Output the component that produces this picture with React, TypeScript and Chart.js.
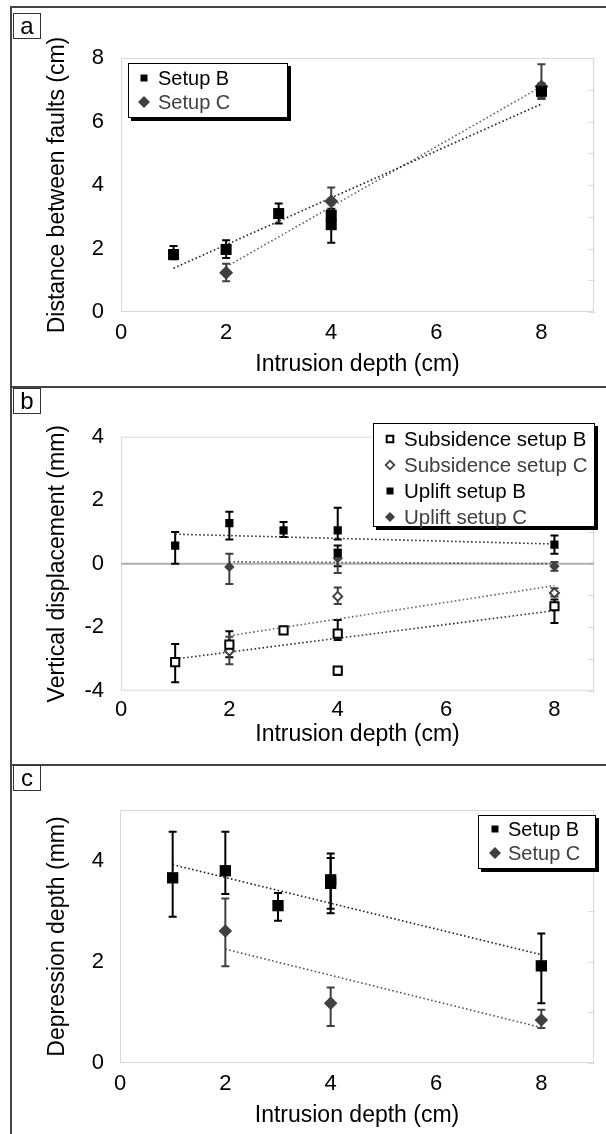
import React, { useEffect, useRef } from "react";
import { Chart, registerables } from "chart.js";

Chart.register(...registerables);

const FONT = "'Liberation Sans', Arial, Helvetica, sans-serif";
const BLACK = "#000000";
const GRAY = "#404040";

// shared x axis
const X_TICKS = [0, 2, 4, 6, 8];
const X_TITLE = "Intrusion depth (cm)";

// ---------- panel a ----------
const A_Y_TICKS = [0, 2, 4, 6, 8];
const A_Y_TITLE = "Distance between faults (cm)";
const A_B_X = [1, 2, 3, 4, 4, 8];
const A_B_Y = [1.81, 1.97, 3.1, 3.05, 2.75, 6.95];
const A_B_HI = [2.08, 2.26, 3.42, 3.25, 3.1, 7.2];
const A_B_LO = [1.66, 1.7, 2.79, 2.85, 2.18, 6.72];
const A_C_X = [2, 4, 8];
const A_C_Y = [1.24, 3.49, 7.1];
const A_C_HI = [1.52, 3.92, 7.8];
const A_C_LO = [0.97, 3.08, 6.74];
const A_B_TREND_X = [1, 8];
const A_B_TREND_Y = [1.38, 6.55];
const A_C_TREND_X = [2, 8];
const A_C_TREND_Y = [1.42, 7.1];

// ---------- panel b ----------
const B_Y_TICKS = [-4, -2, 0, 2, 4];
const B_Y_TITLE = "Vertical displacement (mm)";
const B_SUBB_X = [1, 2, 3, 4, 4, 8];
const B_SUBB_Y = [-3.1, -2.55, -2.1, -2.2, -3.37, -1.34];
const B_SUBB_HI = [-2.53, -2.13, -2.0, -1.77, -3.25, -1.13];
const B_SUBB_LO = [-3.73, -2.95, -2.18, -2.4, -3.5, -1.87];
const B_SUBC_X = [2, 4, 8];
const B_SUBC_Y = [-2.75, -1.03, -0.92];
const B_SUBC_HI = [-2.3, -0.75, -0.77];
const B_SUBC_LO = [-3.17, -1.27, -1.03];
const B_UPB_X = [1, 2, 3, 4, 4, 8];
const B_UPB_Y = [0.57, 1.28, 1.05, 1.05, 0.33, 0.6];
const B_UPB_HI = [1.0, 1.64, 1.31, 1.76, 0.57, 0.89];
const B_UPB_LO = [0.0, 0.76, 0.84, 0.76, -0.08, 0.31];
const B_UPC_X = [2, 4, 8];
const B_UPC_Y = [-0.1, 0.17, -0.08];
const B_UPC_HI = [0.31, 0.45, 0.05];
const B_UPC_LO = [-0.64, -0.29, -0.22];
const B_SUBB_TREND_X = [1, 8];
const B_SUBB_TREND_Y = [-3.0, -1.48];
const B_SUBC_TREND_X = [2, 8];
const B_SUBC_TREND_Y = [-2.27, -0.69];
const B_UPB_TREND_X = [1, 8];
const B_UPB_TREND_Y = [0.93, 0.62];
const B_UPC_TREND_X = [2, 8];
const B_UPC_TREND_Y = [0.06, 0.0];

// ---------- panel c ----------
const C_Y_TICKS = [0, 2, 4];
const C_Y_TITLE = "Depression depth (mm)";
const C_B_X = [1, 2, 3, 4, 4, 8];
const C_B_Y = [3.66, 3.8, 3.11, 3.62, 3.55, 1.92];
const C_B_HI = [4.57, 4.57, 3.36, 4.14, 4.05, 2.56];
const C_B_LO = [2.89, 3.34, 2.81, 3.05, 2.96, 1.18];
const C_C_X = [2, 4, 8];
const C_C_Y = [2.61, 1.18, 0.85];
const C_C_HI = [3.25, 1.49, 1.05];
const C_C_LO = [1.91, 0.73, 0.69];
const C_B_TREND_X = [1, 8];
const C_B_TREND_Y = [3.92, 2.14];
const C_C_TREND_X = [2, 8];
const C_C_TREND_Y = [2.25, 0.7];

const pts = (xs: number[], ys: number[]) => xs.map((x, i) => ({ x, y: ys[i] }));

function drawMarker(ctx: CanvasRenderingContext2D, style: string, x: number, y: number, r: number, fill: string, stroke: string, lw: number) {
  ctx.beginPath();
  if (style === "rect") {
    ctx.rect(x - r, y - r, 2 * r, 2 * r);
  } else {
    ctx.moveTo(x, y - r);
    ctx.lineTo(x + r, y);
    ctx.lineTo(x, y + r);
    ctx.lineTo(x - r, y);
    ctx.closePath();
  }
  ctx.fillStyle = fill;
  ctx.fill();
  if (lw > 0) {
    ctx.strokeStyle = stroke;
    ctx.lineWidth = lw;
    ctx.stroke();
  }
}

const decorPlugin = {
  id: "decor",
  beforeDatasetsDraw(chart: any, _args: any, opts: any) {
    const { ctx, chartArea: a } = chart;
    const xs = chart.scales.x;
    const ys = chart.scales.y;
    ctx.save();
    // plot frame
    ctx.strokeStyle = "#d8d8d8";
    ctx.lineWidth = 1;
    ctx.strokeRect(a.left + 0.5, a.top + 0.5, a.right - a.left - 1, a.bottom - a.top - 1);
    // faint tick marks on the right edge
    ctx.strokeStyle = "#dcdcdc";
    for (let v = Math.ceil(ys.min); v <= ys.max; v++) {
      const y = Math.round(ys.getPixelForValue(v)) + 0.5;
      ctx.beginPath();
      ctx.moveTo(a.right - 6, y);
      ctx.lineTo(a.right + 1, y);
      ctx.stroke();
    }
    if (opts.zeroLine) {
      const y0 = ys.getPixelForValue(0);
      ctx.strokeStyle = "#b0b0b0";
      ctx.lineWidth = 2;
      ctx.beginPath();
      ctx.moveTo(a.left, y0);
      ctx.lineTo(a.right, y0);
      ctx.stroke();
    }
    // error bars
    chart.data.datasets.forEach((ds: any) => {
      if (!ds.errHi) return;
      ctx.strokeStyle = ds.errColor;
      ctx.lineWidth = 2;
      ds.data.forEach((p: any, i: number) => {
        const px = xs.getPixelForValue(p.x);
        const top = ys.getPixelForValue(ds.errHi[i]);
        const bot = ys.getPixelForValue(ds.errLo[i]);
        ctx.beginPath();
        ctx.moveTo(px, top);
        ctx.lineTo(px, bot);
        ctx.moveTo(px - 4, top);
        ctx.lineTo(px + 4, top);
        ctx.moveTo(px - 4, bot);
        ctx.lineTo(px + 4, bot);
        ctx.stroke();
      });
    });
    ctx.restore();
  },
  afterDraw(chart: any, _args: any, opts: any) {
    const lg = opts.legend;
    if (!lg) return;
    const ctx = chart.ctx;
    const [x1, y1, x2, y2] = lg.box;
    ctx.save();
    ctx.fillStyle = "#000";
    ctx.fillRect(x1 + 3, y1 + 3, x2 - x1, y2 - y1);
    ctx.fillStyle = "#fff";
    ctx.fillRect(x1, y1, x2 - x1, y2 - y1);
    ctx.strokeStyle = "#000";
    ctx.lineWidth = 1;
    ctx.strokeRect(x1 + 0.5, y1 + 0.5, x2 - x1 - 1, y2 - y1 - 1);
    const items = chart.data.datasets.filter((d: any) => d.legendSize);
    items.forEach((d: any, i: number) => {
      const y = lg.rows[i];
      drawMarker(ctx, d.pointStyle === "rect" ? "rect" : "diamond", lg.markerX, y, d.legendSize, d.backgroundColor, d.borderColor, d.legendLine || 0);
      ctx.fillStyle = d.legendColor;
      ctx.font = `${lg.font}px ${FONT}`;
      ctx.textBaseline = "middle";
      ctx.textAlign = "left";
      ctx.fillText(d.label, lg.textX, y + 1);
    });
    ctx.restore();
  },
};

function markerSet(label: string, xs: number[], ys: number[], hi: number[], lo: number[], style: string, r: number, fill: string, stroke: string, bw: number, errColor: string, legendSize: number, legendColor: string, legendLine = 0) {
  return {
    label,
    data: pts(xs, ys),
    pointStyle: style,
    pointRadius: r,
    pointHoverRadius: r,
    backgroundColor: fill,
    borderColor: stroke,
    pointBorderWidth: bw,
    borderWidth: bw,
    showLine: false,
    order: 0,
    errHi: hi,
    errLo: lo,
    errColor,
    legendSize,
    legendColor,
    legendLine,
  };
}

function trendSet(xs: number[], ys: number[], color: string) {
  return {
    label: "",
    data: pts(xs, ys),
    showLine: true,
    pointRadius: 0,
    borderColor: color,
    borderWidth: 1.6,
    borderDash: [1.6, 2.4],
    fill: false,
    order: 5,
  };
}

type Geo = {
  canvasH: number;
  areaLeft: number;
  areaRight: number;
  areaTop: number;
  areaBottom: number;
  xMax: number;
  yMin: number;
  yMax: number;
  yTicks: number[];
  yTitle: string;
  xTickPad: number;
  xTitlePadBottom: number;
};

function makeOptions(g: Geo, decor: any) {
  const tickFont = { family: FONT, size: 22, lineHeight: 1 };
  const titleFont = { family: FONT, size: 23, lineHeight: 1 };
  return {
    responsive: false,
    maintainAspectRatio: false,
    animation: false,
    devicePixelRatio: 1,
    events: [],
    layout: { padding: { left: 0, right: 606 - g.areaRight, top: g.areaTop, bottom: 0 } },
    plugins: {
      legend: { display: false },
      tooltip: { enabled: false },
      decor,
    },
    scales: {
      x: {
        type: "linear",
        min: 0,
        max: g.xMax,
        afterBuildTicks: (s: any) => {
          s.ticks = X_TICKS.map((v) => ({ value: v }));
        },
        afterFit: (s: any) => {
          s.height = g.canvasH - g.areaBottom;
        },
        grid: { display: false, drawTicks: false },
        border: { display: false },
        ticks: { font: tickFont, color: "#000", padding: g.xTickPad, maxRotation: 0, autoSkip: false },
        title: { display: true, text: X_TITLE, font: titleFont, color: "#000", padding: { top: 0, bottom: g.xTitlePadBottom } },
      },
      y: {
        type: "linear",
        min: g.yMin,
        max: g.yMax,
        afterBuildTicks: (s: any) => {
          s.ticks = g.yTicks.map((v) => ({ value: v }));
        },
        afterFit: (s: any) => {
          s.width = g.areaLeft;
        },
        grid: { display: false, drawTicks: false },
        border: { display: false },
        ticks: { font: tickFont, color: "#000", padding: g.areaLeft - 104, autoSkip: false },
        title: { display: true, text: g.yTitle, font: titleFont, color: "#000", padding: { top: 46, bottom: 0 } },
      },
    },
  };
}

function configA() {
  const g: Geo = { canvasH: 386, areaLeft: 121, areaRight: 594, areaTop: 58, areaBottom: 312, xMax: 9, yMin: 0, yMax: 8, yTicks: A_Y_TICKS, yTitle: A_Y_TITLE, xTickPad: 10, xTitlePadBottom: 9.5 };
  return {
    type: "scatter",
    data: {
      datasets: [
        markerSet("Setup B", A_B_X, A_B_Y, A_B_HI, A_B_LO, "rect", 7.8, BLACK, BLACK, 0, BLACK, 3.5, BLACK),
        markerSet("Setup C", A_C_X, A_C_Y, A_C_HI, A_C_LO, "rectRot", 7, GRAY, GRAY, 0, GRAY, 6, GRAY),
        trendSet(A_B_TREND_X, A_B_TREND_Y, "#222"),
        trendSet(A_C_TREND_X, A_C_TREND_Y, "#666"),
      ],
    },
    options: makeOptions(g, { legend: { box: [128, 63, 288, 118], rows: [78, 102], markerX: 144, textX: 158, font: 20 } }),
    plugins: [decorPlugin],
  };
}

function configB() {
  const g: Geo = { canvasH: 379, areaLeft: 121, areaRight: 594, areaTop: 50.7, areaBottom: 304.7, xMax: 8.73, yMin: -4, yMax: 4, yTicks: B_Y_TICKS, yTitle: B_Y_TITLE, xTickPad: 8.3, xTitlePadBottom: 18.5 };
  return {
    type: "scatter",
    data: {
      datasets: [
        markerSet("Subsidence setup B", B_SUBB_X, B_SUBB_Y, B_SUBB_HI, B_SUBB_LO, "rect", 5.8, "#ffffff", BLACK, 2, BLACK, 3.3, BLACK, 2),
        markerSet("Subsidence setup C", B_SUBC_X, B_SUBC_Y, B_SUBC_HI, B_SUBC_LO, "rectRot", 4.5, "#ffffff", GRAY, 2, GRAY, 4.3, GRAY, 1.8),
        markerSet("Uplift setup B", B_UPB_X, B_UPB_Y, B_UPB_HI, B_UPB_LO, "rect", 5.8, BLACK, BLACK, 0, BLACK, 3.5, BLACK),
        markerSet("Uplift setup C", B_UPC_X, B_UPC_Y, B_UPC_HI, B_UPC_LO, "rectRot", 5.2, GRAY, GRAY, 0, GRAY, 5, GRAY),
        trendSet(B_SUBB_TREND_X, B_SUBB_TREND_Y, "#333"),
        trendSet(B_SUBC_TREND_X, B_SUBC_TREND_Y, "#666"),
        trendSet(B_UPB_TREND_X, B_UPB_TREND_Y, "#333"),
        trendSet(B_UPC_TREND_X, B_UPC_TREND_Y, "#555"),
      ],
    },
    options: makeOptions(g, { zeroLine: true, legend: { box: [373, 37, 595, 141], rows: [53, 79, 105, 131], markerX: 390, textX: 404, font: 20.5 } }),
    plugins: [decorPlugin],
  };
}

function configC() {
  const g: Geo = { canvasH: 369, areaLeft: 120, areaRight: 594, areaTop: 45, areaBottom: 298, xMax: 9, yMin: 0, yMax: 5, yTicks: C_Y_TICKS, yTitle: C_Y_TITLE, xTickPad: 10, xTitlePadBottom: 6.5 };
  return {
    type: "scatter",
    data: {
      datasets: [
        markerSet("Setup B", C_B_X, C_B_Y, C_B_HI, C_B_LO, "rect", 8, BLACK, BLACK, 0, BLACK, 3.5, BLACK),
        markerSet("Setup C", C_C_X, C_C_Y, C_C_HI, C_C_LO, "rectRot", 6.8, GRAY, GRAY, 0, GRAY, 6, GRAY),
        trendSet(C_B_TREND_X, C_B_TREND_Y, "#222"),
        trendSet(C_C_TREND_X, C_C_TREND_Y, "#555"),
      ],
    },
    options: makeOptions(g, { legend: { box: [478, 50, 596, 104], rows: [64, 88], markerX: 495, textX: 508, font: 20 } }),
    plugins: [decorPlugin],
  };
}

function Panel({ top, height, make }: { top: number; height: number; make: () => any }) {
  const ref = useRef<HTMLCanvasElement>(null);
  useEffect(() => {
    const chart = new Chart(ref.current as HTMLCanvasElement, make() as any);
    return () => chart.destroy();
  }, []);
  return (
    <canvas
      ref={ref}
      width={606}
      height={height}
      style={{ position: "absolute", left: 0, top, width: 606, height, display: "block" }}
    />
  );
}

function LabelBox({ text, top }: { text: string; top: number }) {
  return (
    <div
      style={{
        position: "absolute",
        left: 13,
        top,
        width: 28,
        height: 26,
        boxSizing: "border-box",
        border: "1px solid #333",
        background: "#fff",
        fontFamily: FONT,
        fontSize: 24,
        lineHeight: "24px",
        color: "#000",
        textAlign: "center",
      }}
    >
      {text}
    </div>
  );
}

const FRAME = "#444";

export default function App() {
  return (
    <div style={{ position: "absolute", left: 0, top: 0, width: 606, height: 1134, overflow: "hidden", background: "#fff" }}>
      <Panel top={0} height={386} make={configA} />
      <Panel top={386} height={379} make={configB} />
      <Panel top={765} height={369} make={configC} />
      <div style={{ position: "absolute", left: 10, top: 6, width: 2, height: 1128, background: FRAME }} />
      <div style={{ position: "absolute", left: 10, top: 6, width: 596, height: 2, background: FRAME }} />
      <div style={{ position: "absolute", left: 10, top: 385.5, width: 596, height: 2, background: FRAME }} />
      <div style={{ position: "absolute", left: 10, top: 763.5, width: 596, height: 2, background: FRAME }} />
      <LabelBox text="a" top={13} />
      <LabelBox text="b" top={388} />
      <LabelBox text="c" top={765} />
    </div>
  );
}
